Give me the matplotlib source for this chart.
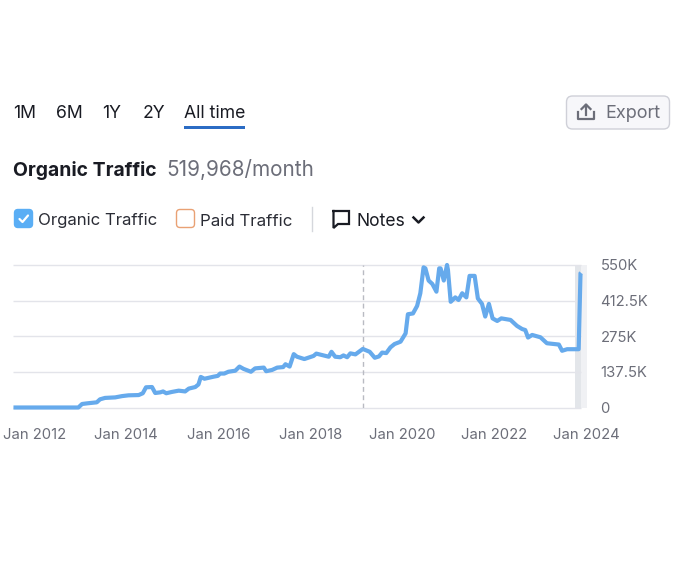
import matplotlib
matplotlib.use("Agg")
import matplotlib.pyplot as plt
from matplotlib.patches import FancyBboxPatch, Rectangle

plt.rcParams['font.family'] = ['Inter', 'DejaVu Sans']

# datos: fecha en anios decimales, trafico en miles
years = [2011.55, 2012.96, 2013.04, 2013.15, 2013.36, 2013.43, 2013.54, 2013.76, 2013.91, 2014.05,
         2014.27, 2014.36, 2014.43, 2014.56, 2014.63, 2014.74, 2014.80, 2014.87, 2014.99, 2015.14,
         2015.28, 2015.36, 2015.50, 2015.57, 2015.62, 2015.70, 2015.90, 2015.99, 2016.04, 2016.13,
         2016.22, 2016.37, 2016.46, 2016.55, 2016.71, 2016.80, 2016.99, 2017.04, 2017.17, 2017.28,
         2017.41, 2017.46, 2017.55, 2017.64, 2017.71, 2017.87, 2018.07, 2018.13, 2018.40, 2018.46,
         2018.54, 2018.65, 2018.72, 2018.80, 2018.87, 2018.98, 2019.14, 2019.29, 2019.40, 2019.49,
         2019.56, 2019.65, 2019.74, 2019.83, 2019.96, 2020.07, 2020.12, 2020.23, 2020.32, 2020.39,
         2020.46, 2020.50, 2020.57, 2020.65, 2020.74, 2020.80, 2020.83, 2020.90, 2020.97, 2020.99,
         2021.05, 2021.15, 2021.22, 2021.30, 2021.39, 2021.46, 2021.57, 2021.64, 2021.73, 2021.80,
         2021.88, 2021.96, 2022.06, 2022.15, 2022.35, 2022.49, 2022.60, 2022.67, 2022.73, 2022.82,
         2023.00, 2023.14, 2023.40, 2023.47, 2023.58, 2023.83, 2023.87, 2023.88]
traffic = [0, 0, 13.5, 16, 20, 31.5, 37, 39, 44, 47,
           48, 55, 78, 79, 56, 58.5, 62, 55, 60, 65,
           62, 73, 79, 89, 118, 111, 119, 122, 131, 131,
           138, 142, 158, 149, 138, 151, 154, 140, 145, 154,
           156, 167, 158, 206, 196, 187, 199, 208, 196, 215,
           196, 194, 201, 194, 209, 205, 226, 215, 192, 197,
           212, 210, 232, 245, 254, 286, 360, 363, 392, 441,
           541, 537, 490, 477, 447, 537, 537, 490, 550, 531,
           408, 425, 415, 441, 425, 508, 508, 421, 400, 351,
           400, 344, 334, 344, 338, 315, 303, 299, 270, 280,
           271, 248, 243, 219, 225, 225, 518, 520]

x_ticks = [2012, 2014, 2016, 2018, 2020, 2022, 2024]
x_labels = ['Jan 2012', 'Jan 2014', 'Jan 2016', 'Jan 2018', 'Jan 2020', 'Jan 2022', 'Jan 2024']
y_ticks = [0, 137.5, 275, 412.5, 550]
y_labels = ['0', '137.5K', '275K', '412.5K', '550K']
tabs = ['1M', '6M', '1Y', '2Y', 'All time']
tab_pos = [13, 56, 102, 143, 184]
note_year = 2019.14

W, H = 680, 571
fig = plt.figure(figsize=(6.8, 5.71), dpi=100)

# capa en pixeles para los controles de arriba
ui = fig.add_axes([0, 0, 1, 1])
ui.set_xlim(0, W)
ui.set_ylim(H, 0)
ui.axis('off')

DARK = '#191b23'
GRAY = '#6c6e79'

for t, x in zip(tabs, tab_pos):
    ui.text(x, 113.5, t, fontsize=12.7, color=DARK, va='center', ha='left')
ui.add_patch(Rectangle((184, 125.5), 61, 3.5, color='#2b6cc4', lw=0))

ui.text(13, 170, 'Organic Traffic', fontsize=13.9, fontweight='bold', color=DARK, va='center')
ui.text(166, 169, '519,968/month', fontsize=14.9, color=GRAY, va='center')

# checkboxes
ui.add_patch(FancyBboxPatch((14.5, 209.5), 18, 18, boxstyle='round,pad=0,rounding_size=3.5',
                            fc='#5aaef5', ec='#5aaef5', lw=1))
ui.plot([19.5, 22.5, 28], [219, 222, 215.5], color='white', lw=1.6, solid_capstyle='round')
ui.text(37.5, 220, 'Organic Traffic', fontsize=12.1, color='#2a2c35', va='center')
ui.add_patch(FancyBboxPatch((176.5, 209.5), 18, 18, boxstyle='round,pad=0,rounding_size=3.5',
                            fc='white', ec='#e9a174', lw=1))
ui.text(200, 221, 'Paid Traffic', fontsize=12.2, color='#2a2c35', va='center')
ui.plot([311.5, 311.5], [207, 231], color='#d5d7dc', lw=1)

# notes
ui.plot([333.5, 349, 349, 338, 333.5, 333.5], [211, 211, 224, 224, 228, 211], color=DARK, lw=1.6,
        solid_joinstyle='miter')
ui.text(356, 221, 'Notes', fontsize=12.6, color=DARK, va='center')
ui.plot([413.5, 418.5, 423.5], [217.5, 222.5, 217.5], color=DARK, lw=1.8)

# export
ui.add_patch(FancyBboxPatch((566.5, 96), 103, 33, boxstyle='round,pad=0,rounding_size=6',
                            fc='#f7f7fa', ec='#cfd0d8', lw=1))
ui.plot([578, 578, 594, 594], [112, 118.5, 118.5, 112], color=GRAY, lw=1.6)
ui.plot([586, 586], [115, 105], color=GRAY, lw=1.6)
ui.plot([581.5, 586, 590.5], [109, 104.5, 109], color=GRAY, lw=1.6)
ui.text(605, 113.5, 'Export', fontsize=13, color=GRAY, va='center')

# grafico
left, right, top, bottom = 13, 587.4, 265, 407.5
ax = fig.add_axes([left / W, 1 - bottom / H, (right - left) / W, (bottom - top) / H])
ax.set_xlim(2011.54, 2024.02)
ax.set_ylim(0, 550)
ax.patch.set_alpha(0)
for s in ax.spines.values():
    s.set_visible(False)

ax.axvspan(2023.76, 2023.89, color='#e3e6ea', lw=0, zorder=1)
ax.axvspan(2023.89, 2024.02, color='#f0f1f4', lw=0, zorder=1)
ax.hlines(y_ticks, 2011.54, 2023.89, color='#e3e4ea', lw=1, zorder=2, clip_on=False)
ax.axvline(note_year, color='#b9bbc2', lw=1, ls=(0, (3.5, 2.5)), zorder=2)
ax.plot(years, traffic, color='#66aaec', lw=3, zorder=3, clip_on=False, solid_joinstyle='round',
        solid_capstyle='butt')

ax.set_xticks(x_ticks, x_labels)
ax.yaxis.tick_right()
ax.set_yticks(y_ticks, y_labels)
ax.tick_params(axis='x', length=0, pad=14.7, labelsize=10.7, labelcolor=GRAY)
ax.tick_params(axis='y', length=0, pad=9.5, labelsize=10.7, labelcolor=GRAY)

fig.savefig('out.png', dpi=100)
